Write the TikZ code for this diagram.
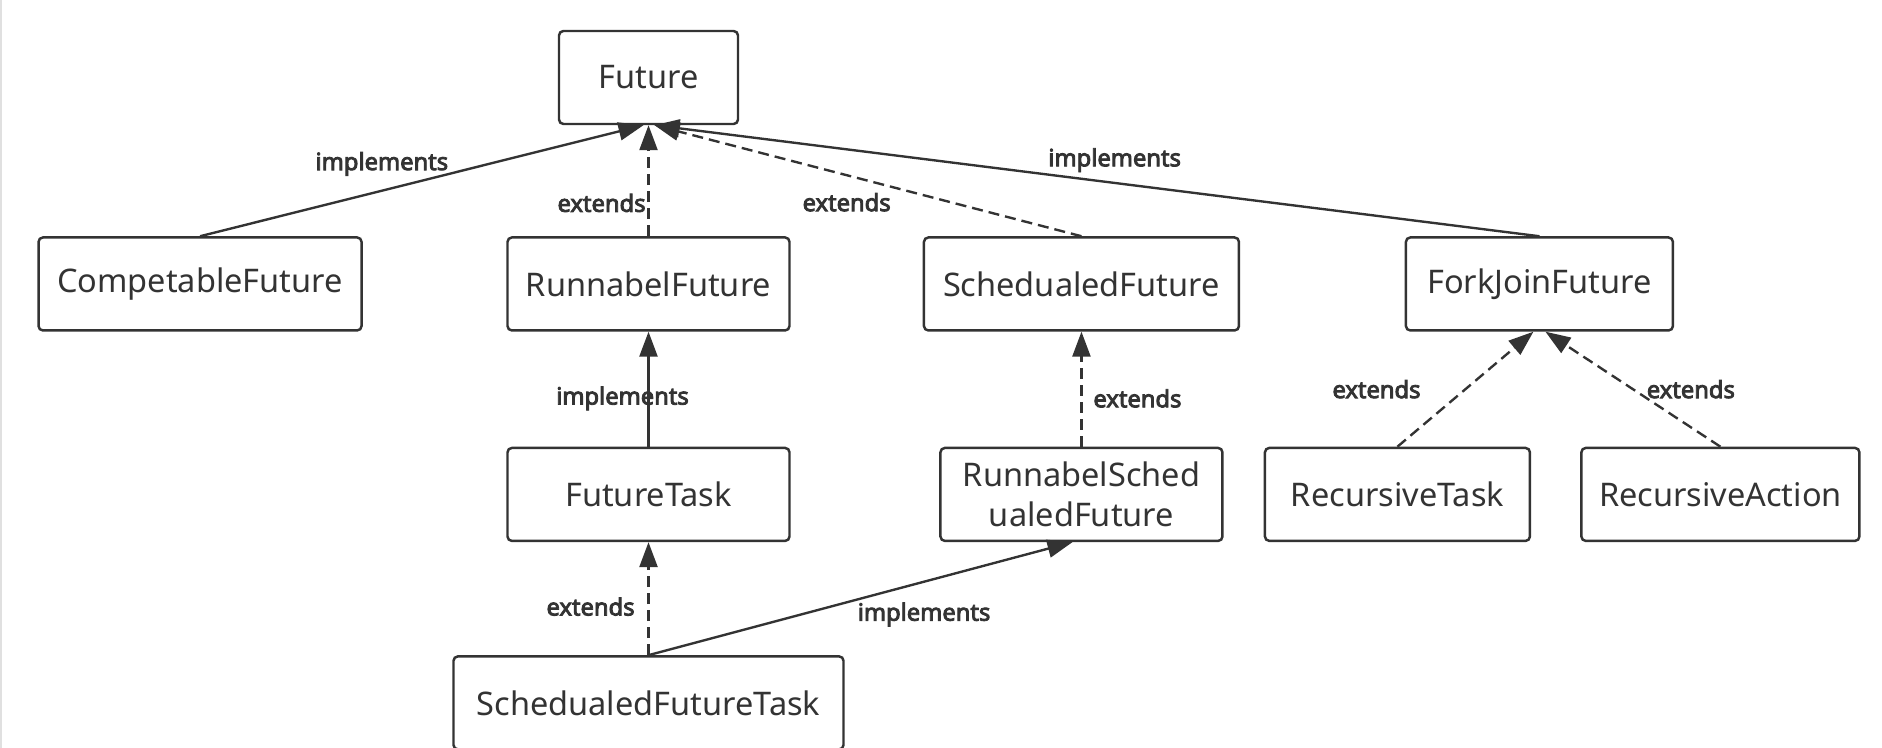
\documentclass[tikz,border=0pt]{standalone}
\usepackage{fontspec}
\setmainfont{Noto Sans}
\newfontfamily\lblfont{Noto Sans}[FakeBold=3.6]
\usepackage{tikz}
\usetikzlibrary{positioning,arrows.meta}
\definecolor{ink}{HTML}{333333}

\begin{document}
\begin{tikzpicture}[
  cls/.style={rectangle, draw=ink, rounded corners=2.5pt, line width=1.4pt,
              minimum height=1.86cm, align=center, text=ink,
              font=\fontsize{18.5}{23}\selectfont},
  lbl/.style={inner sep=1pt, text=ink, font=\lblfont\fontsize{13.5}{16}\selectfont},
  impl/.style={->, draw=ink, line width=1.35pt},
  ext/.style={->, draw=ink, line width=1.35pt, dash pattern=on 0.22cm off 0.12cm},
  >={Triangle[length=0.5cm, width=0.36cm]}
]
  \useasboundingbox (0,0) rectangle (37.64,-14.96);
  \draw[black!12, line width=0.8pt] (0.02,0) -- (0.02,-14.96);

  % interfaces
  \node[cls, minimum width=3.58cm] (future) at (12.97,-1.55) {Future};
  \node[cls, minimum width=5.64cm, below=2.22cm of future] (runfut) {RunnabelFuture};
  \node[cls, minimum width=6.46cm, left=2.87cm of runfut] (compfut) {CompetableFuture};
  \node[cls, minimum width=6.30cm, right=2.64cm of runfut] (schedfut) {SchedualedFuture};
  \node[cls, minimum width=5.34cm, right=3.29cm of schedfut] (forkfut) {ForkJoinFuture};

  % implementations
  \node[cls, minimum width=5.64cm, below=2.3cm of runfut] (futtask) {FutureTask};
  \node[cls, minimum width=5.64cm, below=2.3cm of schedfut] (runsched) {RunnabelSched\\ualedFuture};
  \node[cls, minimum width=5.30cm, right=0.80cm of runsched] (rectask) {RecursiveTask};
  \node[cls, minimum width=5.56cm, right=0.98cm of rectask] (recaction) {RecursiveAction};
  \node[cls, minimum width=7.80cm, below=2.26cm of futtask] (schedtask) {SchedualedFutureTask};

  \draw[impl] (compfut.north) -- node[lbl, pos=.41, above=0.24cm] {implements} ([xshift=-0.1cm]future.south);
  \draw[ext] (runfut.north) -- node[lbl, pos=.3, left=0pt] {extends} (future.south);
  \draw[ext] (schedfut.north) -- node[lbl, pos=.55, below=0.3cm] {extends} ([xshift=0.12cm]future.south);
  \draw[impl] (forkfut.north) -- node[lbl, pos=.48, above=0.16cm] {implements} ([xshift=0.12cm]future.south);
  \draw[impl] (futtask.north) -- node[lbl, pos=.42, xshift=-0.52cm] {implements} (runfut.south);
  \draw[ext] (runsched.north) -- node[lbl, pos=.42, right=0.18cm] {extends} (schedfut.south);
  \draw[ext] (rectask.north) -- node[lbl, pos=.5, left=0.84cm] {extends} ([xshift=-0.12cm]forkfut.south);
  \draw[ext] (recaction.north) -- node[lbl, pos=.5, right=0.22cm] {extends} ([xshift=0.12cm]forkfut.south);
  \draw[ext] (schedtask.north) -- node[lbl, pos=.43, left=0.22cm] {extends} (futtask.south);
  \draw[impl] (schedtask.north) -- node[lbl, pos=.65, below=0.36cm] {implements} ([xshift=-0.18cm]runsched.south);
\end{tikzpicture}
\end{document}
